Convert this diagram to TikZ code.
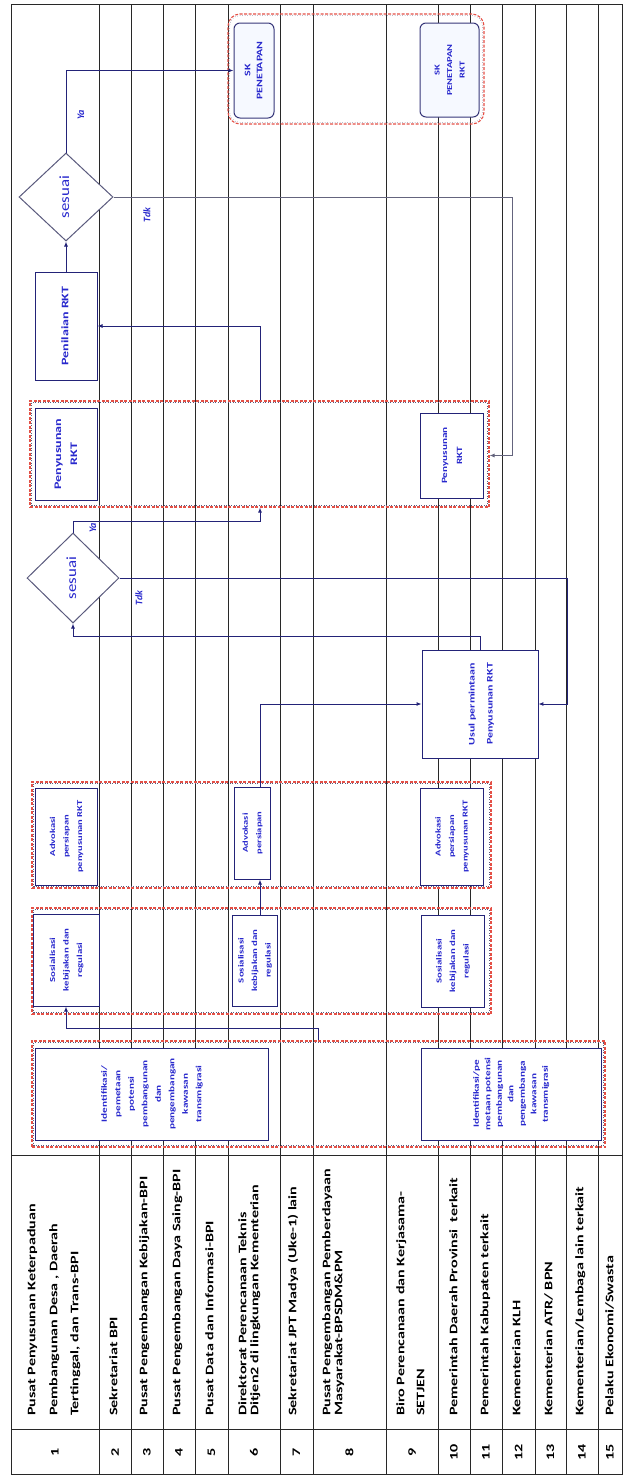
\documentclass[tikz,border=0pt]{standalone}
\usepackage{fontspec}
\setmainfont{Carlito}
\usepackage{graphicx}
\usetikzlibrary{arrows.meta,shapes.geometric,calc}
\definecolor{navy}{RGB}{35,35,120}
\definecolor{btext}{RGB}{40,40,205}
\definecolor{grpred}{RGB}{228,80,70}
\definecolor{laneline}{RGB}{40,40,40}
\definecolor{skfill}{RGB}{246,249,255}
\newcommand\rtx[4][1.4]{\rotatebox{90}{\scalebox{#1}[1]{\fontsize{#2}{#3}\selectfont\begin{tabular}{@{}c@{}}#4\end{tabular}}}}
\newcommand\stt[1]{\scalebox{1.4}[1]{#1}}
\tikzset{
 lane/.style={draw=laneline, line width=1pt},
 box/.style={draw=navy, line width=1pt, fill=white, inner sep=0pt, text=btext, font=\bfseries},
 skbox/.style={box, fill=skfill, rounded corners=6pt, draw=navy!80!gray},
 grp/.style={draw=grpred, dash pattern=on 3pt off 1.5pt, line width=1.1pt, inner sep=0pt},
 grpin/.style={draw=gray!60!navy, dotted, line width=0.5pt},
 dec/.style={diamond, draw=gray!60!navy, line width=1pt, fill=white, inner sep=0pt, text=btext},
 arr/.style={draw=navy, line width=1pt, -{Latex[length=5pt,width=4pt]}},
 arrgray/.style={draw=gray!70!navy, line width=0.8pt, -{Latex[length=5pt,width=4pt]}},
 yn/.style={text=btext, font=\fontsize{10}{11}\bfseries\itshape, inner sep=0pt, rotate=90},
 labtxt/.style={rotate=90, anchor=mid west, inner sep=0pt, font=\fontsize{11.5}{13}\bfseries},
 numtxt/.style={rotate=90, inner sep=0pt, font=\fontsize{11.5}{13}\bfseries},
}
\begin{document}
\begin{tikzpicture}[x=1pt,y=-1pt]
\useasboundingbox (0,0) rectangle (623,1476);
% table frame
\draw[lane] (11,4) rectangle (622,1474);
\foreach \xx in {99,131,163,195,228,280,313,386,438,470,502,535,566,598}
  \draw[lane] (\xx,4) -- (\xx,1474);
\draw[lane] (11,1155) -- (622,1155);
\draw[lane] (11,1429) -- (622,1429);

% helper coordinates
\coordinate (xa) at (260,0);
\coordinate (xb) at (318,0);
\coordinate (xc) at (480,0);
\coordinate (xd) at (567,0);
\coordinate (xe) at (512,0);

% groups
\node[grp, minimum width=573pt, minimum height=106pt] (gIdent) at (318.5,1094) {};
\node[grp, minimum width=459pt, minimum height=106pt] (gSos) at (261.5,961) {};
\node[grp, minimum width=459pt, minimum height=106pt] (gAdv) at (261.5,835) {};
\node[grp, minimum width=459pt, minimum height=106pt] (gPeny) at (259.5,454) {};
\node[grp, rounded corners=12pt, minimum width=256pt, minimum height=110pt] (gSK) at (356,69) {};
\foreach \g in {gIdent,gSos,gAdv,gPeny}
  \draw[grpin] ($(\g.north west)+(2.2,2.2)$) rectangle ($(\g.south east)+(-2.2,-2.2)$);
\draw[grpin, rounded corners=10pt] ($(gSK.north west)+(2.2,2.2)$) rectangle ($(gSK.south east)+(-2.2,-2.2)$);

% boxes
\node[box, line width=0.8pt, minimum width=233pt, minimum height=92pt] (ident1) at (151.5,1094)
  {\rtx{8}{13.5}{Identifikasi/\\pemetaan\\potensi\\pembangunan\\dan\\pengembangan\\kawasan\\transmigrasi}};
\node[box, line width=0.8pt, minimum width=180pt, minimum height=92pt] (ident9) at (511,1094)
  {\rtx{8}{11.5}{Identifikasi/pe\\metaan potensi\\pembangunan\\dan\\pengembanga\\kawasan\\transmigrasi}};
\node[box, minimum width=66pt, minimum height=92pt] (sos1) at (66,960)
  {\rtx{7.7}{13.5}{Sosialisasi\\kebijakan dan\\regulasi}};
\node[box, minimum width=45pt, minimum height=91pt] (sos6) at (254.5,960.5)
  {\rtx{7.7}{13.5}{Sosialisasi\\kebijakan dan\\regulasi}};
\node[box, minimum width=63pt, minimum height=92pt] (sos9) at (452.5,961)
  {\rtx{7.7}{13.5}{Sosialisasi\\kebijakan dan\\regulasi}};
\node[box, minimum width=62pt, minimum height=97pt] (adv1) at (66,836.5)
  {\rtx{7.5}{13.5}{Advokasi\\persiapan\\penyusunan RKT}};
\node[box, minimum width=36pt, minimum height=92pt] (adv6) at (252,833)
  {\rtx{7.5}{13.5}{Advokasi\\persiapan}};
\node[box, minimum width=63pt, minimum height=97pt] (adv9) at (451.5,836.5)
  {\rtx{7.5}{13.5}{Advokasi\\persiapan\\penyusunan RKT}};
\node[box, line width=0.8pt, minimum width=116pt, minimum height=108pt] (usul) at (480,704)
  {\rtx{8.5}{18}{Usul permintaan\\Penyusunan RKT}};
\node[box, minimum width=62pt, minimum height=92pt] (peny1) at (66,454)
  {\rtx{10}{16}{Penyusunan\\RKT}};
\node[box, minimum width=63pt, minimum height=85pt] (peny10) at (451.5,455.5)
  {\rtx{8}{15}{Penyusunan\\RKT}};
\node[box, minimum width=62pt, minimum height=108pt] (pen) at (66,326)
  {\rtx{10}{12}{Penilaian RKT}};
\node[dec, minimum width=94pt, minimum height=88pt] (dec1) at (66,197)
  {\rtx[1.2]{14}{16}{sesuai}};
\node[dec, minimum width=92pt, minimum height=90pt] (dec2) at (73,578)
  {\rtx[1.2]{14}{16}{sesuai}};
\node[skbox, minimum width=40pt, minimum height=95pt] (sk1) at (254,70.5)
  {\rtx{8.5}{12}{SK\\PENETAPAN}};
\node[skbox, minimum width=59pt, minimum height=94pt] (sk9) at (449.5,70)
  {\rtx{7.5}{12.5}{SK\\PENETAPAN\\RKT}};

% connectors
\draw[arr] (gIdent.north -| xb) -- ++(0,-12) -| (sos1.south);
\draw[arr] (sos6.north -| xa) -- (adv6.south -| xa);
\draw[arr] (adv6.north -| xa) |- (usul.west);
\draw[arr] (usul.north -| xc) -- ++(0,-13) -| (dec2.south);
\draw[arr] (dec2.east) -| (xd |- usul.east) -- (usul.east);
\draw[arr] (dec2.north) -- ++(0,-11) -| (gPeny.south -| xa);
\draw[arr] (gPeny.north -| xa) |- (pen.east);
\draw[arr] (pen.north) -- (dec1.south);
\draw[arr] (dec1.north) |- (sk1.west);
\draw[arrgray] (dec1.east) -| (xe |- peny10.east) -- (gPeny.east |- peny10.east);

% Ya / Tdk
\node[yn] (ya1) at (81,115) {Ya};
\node[yn] (tdk1) at (147,215) {Tdk};
\node[yn] (ya2) at (93,528) {Ya};
\node[yn] (tdk2) at (139,598) {Tdk};

% lane labels
\node[labtxt] (l1a) at (33,1416) {\stt{Pusat Penyusunan Keterpaduan}};
\node[labtxt] (l1b) at (55,1416) {\stt{Pembangunan Desa , Daerah}};
\node[labtxt] (l1c) at (76,1416) {\stt{Tertinggal, dan Trans-BPI}};
\node[labtxt] (l2) at (115,1416) {\stt{Sekretariat BPI}};
\node[labtxt] (l3) at (145,1416) {\stt{Pusat Pengembangan Kebijakan-BPI}};
\node[labtxt] (l4) at (178,1416) {\stt{Pusat Pengembangan Daya Saing-BPI}};
\node[labtxt] (l5) at (211,1416) {\stt{Pusat Data dan Informasi-BPI}};
\node[labtxt] (l6a) at (244,1416) {\stt{Direktorat Perencanaan Teknis}};
\node[labtxt] (l6b) at (256,1416) {\stt{Ditjen2 di lingkungan Kementerian}};
\node[labtxt] (l7) at (294,1416) {\stt{Sekretariat JPT Madya (Uke-1) lain}};
\node[labtxt] (l8a) at (328,1416) {\stt{Pusat Pengembangan Pemberdayaan}};
\node[labtxt] (l8b) at (340,1416) {\stt{Masyarakat-BPSDM\&PM}};
\node[labtxt] (l9a) at (402,1416) {\stt{Biro Perencanaan dan Kerjasama-}};
\node[labtxt] (l9b) at (422,1416) {\stt{SETJEN}};
\node[labtxt] (l10) at (455,1416) {\stt{Pemerintah Daerah Provinsi\ \ terkait}};
\node[labtxt] (l11) at (486,1416) {\stt{Pemerintah Kabupaten terkait}};
\node[labtxt] (l12) at (518,1416) {\stt{Kementerian KLH}};
\node[labtxt] (l13) at (550,1416) {\stt{Kementerian ATR/ BPN}};
\node[labtxt] (l14) at (581,1416) {\stt{Kementerian/Lembaga lain terkait}};
\node[labtxt] (l15) at (611,1416) {\stt{Pelaku Ekonomi/Swasta}};

% numbers
\foreach \n/\xx in {1/55,2/115,3/147,4/179,5/211.5,6/254,7/296.5,8/349.5,9/412,10/454,11/486,12/518.5,13/550.5,14/582,15/610}
  \node[numtxt] (num\n) at (\xx,1452) {\stt{\n}};
\end{tikzpicture}
\end{document}
